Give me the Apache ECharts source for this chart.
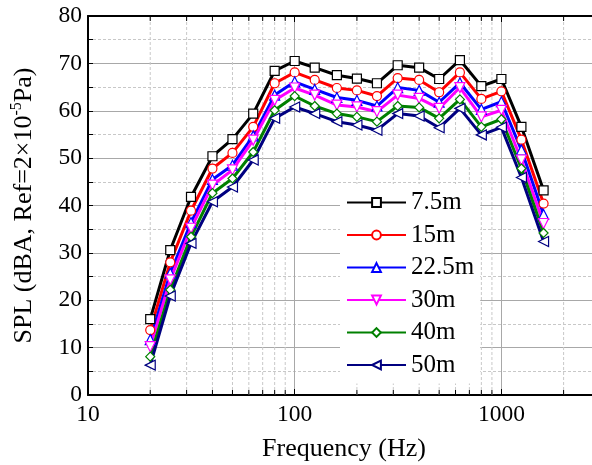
<!DOCTYPE html>
<html>
<head>
<meta charset="utf-8">
<script src="https://cdn.jsdelivr.net/npm/echarts@6/dist/echarts.min.js"></script>
<style>
  html, body { margin: 0; padding: 0; background: #fff; }
  #chart { width: 592px; height: 465px; }
</style>
</head>
<body>
<div id="chart"></div>
<script>
// 1/3 octave band centre frequencies (Hz)
const freqs = [20, 25, 31.5, 40, 50, 63, 80, 100, 125, 160, 200, 250, 315, 400, 500, 630, 800, 1000, 1250, 1600]

// SPL values, one list per distance
const spl_7_5m = [16.0, 30.6, 41.8, 50.4, 54.0, 59.4, 68.4, 70.5, 69.1, 67.5, 66.8, 65.8, 69.6, 69.1, 66.7, 70.7, 65.2, 66.7, 56.6, 43.2]
const spl_15m = [13.7, 28.0, 38.9, 47.8, 51.1, 56.6, 65.8, 68.1, 66.5, 64.8, 64.3, 63.1, 66.9, 66.5, 63.9, 68.1, 62.5, 64.1, 53.9, 40.4]
const spl_22_5m = [11.7, 25.7, 36.4, 45.5, 48.5, 54.7, 63.3, 66.1, 64.5, 62.8, 62.2, 61.0, 64.9, 64.3, 61.8, 65.9, 60.3, 61.9, 51.7, 38.1]
const spl_30m = [10.2, 24.3, 35.2, 44.3, 47.5, 53.8, 62.2, 64.8, 63.3, 61.2, 60.8, 59.8, 63.3, 62.6, 60.5, 64.9, 58.7, 60.1, 49.6, 36.2]
const spl_40m = [8.1, 22.2, 33.4, 42.6, 45.7, 51.3, 60.1, 63.1, 61.0, 59.4, 58.7, 57.7, 61.0, 60.7, 58.4, 62.4, 56.6, 58.2, 47.8, 34.2]
const spl_50m = [6.3, 20.9, 32.0, 40.8, 43.9, 49.6, 58.4, 60.8, 59.4, 57.7, 57.0, 55.9, 59.4, 58.9, 56.4, 60.5, 54.9, 56.5, 45.9, 32.4]

const seriesNames = ['7.5m', '15m', '22.5m', '30m', '40m', '50m']
const seriesValues = [spl_7_5m, spl_15m, spl_22_5m, spl_30m, spl_40m, spl_50m]
const colors = ['#000000', '#ff0000', '#0000ff', '#ff00ff', '#008000', '#000080']
const symbols = ['rect', 'circle', 'triangle', 'triangle', 'diamond', 'triangle']
const rotations = [0, 0, 0, 180, 0, 90]

// axis ranges and minor log ticks
const xMin = 10
const xMax = 3000
const yMin = 0
const yMax = 80
const yStep = 10
const minorFreqs = [20, 30, 40, 50, 60, 70, 80, 90, 200, 300, 400, 500, 600, 700, 800, 900, 2000, 3000]

const font = '"Liberation Serif", "Times New Roman", serif'

let chart = echarts.init(document.getElementById('chart'))

let lineSeries = seriesNames.map((name, i) => ({
  name: name,
  type: 'line',
  data: freqs.map((f, j) => [f, seriesValues[i][j]]),
  symbol: symbols[i],
  symbolSize: symbols[i] === 'triangle' ? 10 : 9,
  symbolRotate: rotations[i],
  showAllSymbol: true,
  lineStyle: { color: colors[i], width: 3 },
  itemStyle: { color: '#fff', borderColor: colors[i], borderWidth: 1.2 },
  emphasis: { disabled: true },
  z: 3
}))

// minor log grid lines and ticks (base 10 log axis only draws decades)
let minorGrid = {
  type: 'custom',
  silent: true,
  z: 1,
  data: minorFreqs.map(f => [f, yMin]),
  renderItem: function (params, api) {
    let f = api.value(0)
    let b = api.coord([f, yMin])
    let t = api.coord([f, yMax])
    return {
      type: 'group',
      children: [
        { type: 'line', shape: { x1: b[0], y1: b[1], x2: t[0], y2: t[1] },
          style: { stroke: '#c8c8c8', lineWidth: 1, lineDash: [3, 2] } },
        { type: 'line', shape: { x1: b[0], y1: b[1], x2: b[0], y2: b[1] - 5 },
          style: { stroke: '#000', lineWidth: 1 } },
        { type: 'line', shape: { x1: t[0], y1: t[1], x2: t[0], y2: t[1] + 5 },
          style: { stroke: '#000', lineWidth: 1 } }
      ]
    }
  }
}

let option = {
  animation: false,
  backgroundColor: '#fff',
  color: colors,
  grid: { left: 88, right: -8, top: 16, bottom: 70, containLabel: false, outerBoundsMode: 'none' },
  legend: {
    orient: 'vertical',
    left: 340,
    top: 184,
    padding: 6,
    itemWidth: 59,
    itemHeight: 11,
    itemGap: 7.5,
    backgroundColor: '#fff',
    data: seriesNames,
    textStyle: { fontFamily: font, fontSize: 25, lineHeight: 24, color: '#000' },
    z: 10
  },
  xAxis: [{
    type: 'log',
    logBase: 10,
    min: xMin,
    max: xMax,
    name: 'Frequency (Hz)',
    nameLocation: 'middle',
    nameGap: 41,
    nameTextStyle: { fontFamily: font, fontSize: 26, color: '#000' },
    axisLine: { lineStyle: { color: '#000', width: 2 } },
    axisTick: { inside: true, length: 6, lineStyle: { color: '#000' } },
    axisLabel: {
      fontFamily: font, fontSize: 23.5, color: '#000', margin: 8, showMaxLabel: false,
      formatter: v => String(v)
    },
    splitLine: { show: true, lineStyle: { color: '#a8a8a8', width: 1 } }
  }, {
    type: 'log',
    logBase: 10,
    min: xMin,
    max: xMax,
    position: 'top',
    axisLine: { lineStyle: { color: '#000', width: 2 } },
    axisTick: { inside: true, length: 6, lineStyle: { color: '#000' } },
    axisLabel: { show: false },
    splitLine: { show: false }
  }],
  yAxis: {
    type: 'value',
    min: yMin,
    max: yMax,
    interval: yStep,
    name: '{a|SPL (dBA, Ref=2×10}{s|-5}{a|Pa)}',
    nameLocation: 'middle',
    nameGap: 49,
    nameTextStyle: {
      rich: {
        a: { fontFamily: font, fontSize: 26, color: '#000', lineHeight: 30 },
        s: { fontFamily: font, fontSize: 16, color: '#000', lineHeight: 16, verticalAlign: 'top' }
      }
    },
    axisLine: { show: true, lineStyle: { color: '#000', width: 2 } },
    axisTick: { inside: true, length: 5, lineStyle: { color: '#000' } },
    minorTick: { show: true, splitNumber: 2, length: 5, lineStyle: { color: '#000' } },
    axisLabel: { fontFamily: font, fontSize: 23.5, color: '#000', margin: 6 },
    splitLine: { show: true, lineStyle: { color: '#a8a8a8', width: 1 } },
    minorSplitLine: { show: true, lineStyle: { color: '#c8c8c8', width: 1, type: [3, 2] } }
  },
  series: [minorGrid].concat(lineSeries)
}

chart.setOption(option)
</script>
</body>
</html>
